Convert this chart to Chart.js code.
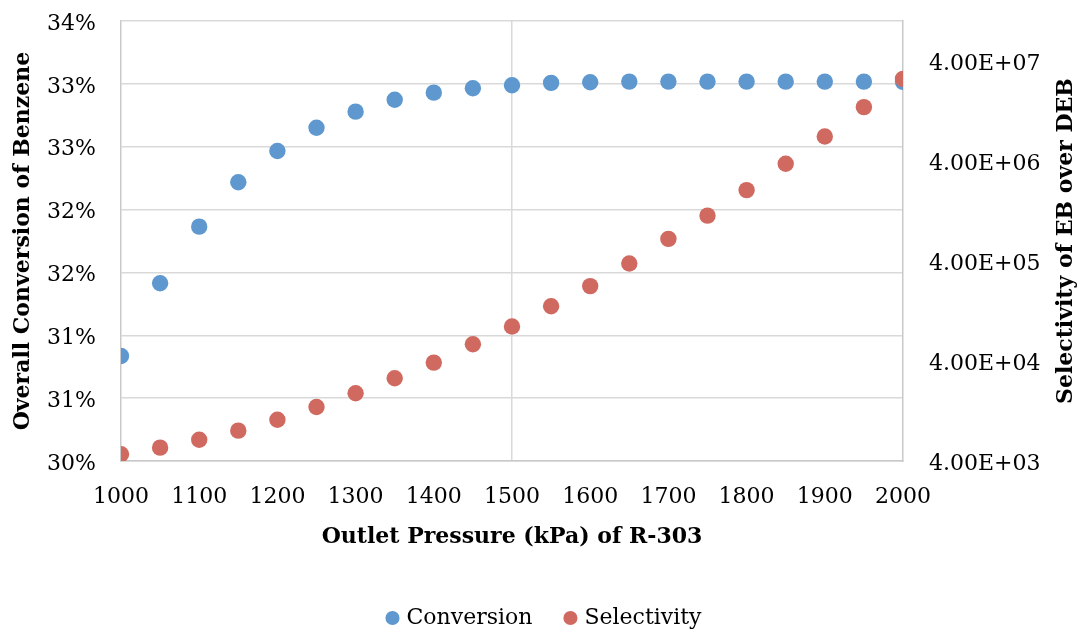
<!DOCTYPE html>
<html>
<head>
<meta charset="utf-8">
<title>Outlet Pressure of R-303</title>
<script src="https://cdn.jsdelivr.net/npm/chart.js@4.4.1/dist/chart.umd.min.js"></script>
<style>
  html, body { margin: 0; padding: 0; background: #ffffff; }
  #wrap { width: 1078px; height: 630px; }
</style>
</head>
<body>
<div id="wrap"><canvas id="chart" width="1078" height="630"></canvas></div>
<script>
// Outlet pressure of R-303 (kPa)
const pressures = [1000, 1050, 1100, 1150, 1200, 1250, 1300, 1350, 1400, 1450, 1500,
                   1550, 1600, 1650, 1700, 1750, 1800, 1850, 1900, 1950, 2000];

// Overall conversion of benzene (fraction)
const conversion = [0.30835, 0.31414, 0.31864, 0.32217, 0.32466, 0.32651, 0.32779,
                    0.32874, 0.32930, 0.32965, 0.32989, 0.33008, 0.33013, 0.33018,
                    0.33018, 0.33018, 0.33018, 0.33018, 0.33018, 0.33018, 0.33016];

// Selectivity of EB over DEB
const selectivity = [4670, 5440, 6530, 8040, 10350, 13870, 19000, 26900, 38500, 58800,
                     88500, 141000, 224000, 377000, 664000, 1134000, 2040000, 3740000,
                     7000000, 13770000, 26400000];

// Axis tick labels
const conversionTickLabels = ['30%', '31%', '31%', '32%', '32%', '33%', '33%', '34%'];
const selectivityTicks = [4e3, 4e4, 4e5, 4e6, 4e7];
const selectivityTickLabels = ['4.00E+03', '4.00E+04', '4.00E+05', '4.00E+06', '4.00E+07'];

const FONT = 'DejaVu Serif';
const GRID = '#D9D9D9';
const AXIS = '#C9C9C9';

const tickFont = { family: FONT, size: 22, lineHeight: 1.2 };
const titleFont = { family: FONT, size: 22, weight: 'bold', lineHeight: 1 };

// Fixed axis width; the plot edges are set by the layout padding instead
const fixWidth = (w) => (s) => {
  s.width = w;
  s.paddingTop = 0;
  s.paddingBottom = 0;
};

// Right-hand axis title, written bottom-to-top like the left one
const rightAxisTitle = {
  id: 'rightAxisTitle',
  afterDraw(chart) {
    const opts = chart.options.scales.y1.title;
    const area = chart.chartArea;
    const ctx = chart.ctx;
    ctx.save();
    ctx.translate(chart.width - 12, (area.top + area.bottom) / 2);
    ctx.rotate(-Math.PI / 2);
    ctx.font = 'bold 22px "' + FONT + '"';
    ctx.fillStyle = '#000000';
    ctx.textAlign = 'center';
    ctx.textBaseline = 'middle';
    ctx.fillText(opts.text, 0, 0);
    ctx.restore();
  }
};

new Chart(document.getElementById('chart'), {
  type: 'scatter',
  plugins: [rightAxisTitle],
  data: {
    datasets: [
      {
        label: 'Conversion',
        data: pressures.map((p, i) => ({ x: p, y: conversion[i] })),
        yAxisID: 'y',
        backgroundColor: '#5E98CE',
        borderWidth: 0,
        pointRadius: 8.2,
        pointHoverRadius: 8.2,
        order: 1
      },
      {
        label: 'Selectivity',
        data: pressures.map((p, i) => ({ x: p, y: selectivity[i] })),
        yAxisID: 'y1',
        backgroundColor: '#D06A61',
        borderWidth: 0,
        pointRadius: 8.2,
        pointHoverRadius: 8.2,
        order: 0
      }
    ]
  },
  options: {
    responsive: false,
    animation: false,
    devicePixelRatio: 1,
    layout: { padding: { top: 21, left: 13, right: 0, bottom: 0 } },
    plugins: {
      tooltip: { enabled: false },
      legend: {
        position: 'bottom',
        maxHeight: 58,
        labels: {
          usePointStyle: true,
          pointStyle: 'circle',
          boxWidth: 6,
          boxHeight: 10,
          padding: 35,
          color: '#000000',
          font: { family: FONT, size: 22 },
          sort: (a, b) => a.datasetIndex - b.datasetIndex
        }
      }
    },
    scales: {
      x: {
        type: 'linear',
        min: 1000,
        max: 2000,
        afterFit: (s) => { s.height = 111; },
        ticks: {
          stepSize: 100,
          autoSkip: false,
          maxRotation: 0,
          padding: 23,
          color: '#000000',
          font: tickFont,
          callback: (v) => String(v)
        },
        grid: {
          drawTicks: false,
          lineWidth: 1.5,
          color: (ctx) => (ctx.tick && ctx.tick.value === 1500 ? GRID : 'rgba(0,0,0,0)')
        },
        border: { display: true, color: AXIS, width: 1.5 },
        title: {
          display: true,
          text: 'Outlet Pressure (kPa) of R-303',
          color: '#000000',
          font: titleFont,
          padding: { top: 0, bottom: 24 }
        }
      },
      y: {
        type: 'linear',
        position: 'left',
        min: 0.30,
        max: 0.335,
        afterFit: fixWidth(108),
        afterBuildTicks: (s) => {
          s.ticks = conversionTickLabels.map((_, i) => ({ value: 0.30 + i * 0.005 }));
        },
        ticks: {
          autoSkip: false,
          padding: 25,
          labelOffset: 3,
          color: '#000000',
          font: tickFont,
          callback: (v, i) => conversionTickLabels[i]
        },
        grid: { drawTicks: false, color: GRID, lineWidth: 1.5 },
        border: { display: true, color: AXIS, width: 1.5 },
        title: {
          display: true,
          text: 'Overall Conversion of Benzene',
          color: '#000000',
          font: titleFont,
          padding: { top: -1, bottom: 0 }
        }
      },
      y1: {
        type: 'logarithmic',
        position: 'right',
        min: 4000,
        max: 1e8,
        afterFit: fixWidth(175),
        afterBuildTicks: (s) => {
          s.ticks = selectivityTicks.map((v) => ({ value: v }));
        },
        ticks: {
          autoSkip: false,
          padding: 26,
          labelOffset: 3,
          color: '#000000',
          font: tickFont,
          callback: (v, i) => selectivityTickLabels[i]
        },
        grid: { drawTicks: false, drawOnChartArea: false },
        border: { display: true, color: AXIS, width: 1.5 },
        title: {
          display: false,
          text: 'Selectivity of EB over DEB'
        }
      }
    }
  }
});
</script>
</body>
</html>
